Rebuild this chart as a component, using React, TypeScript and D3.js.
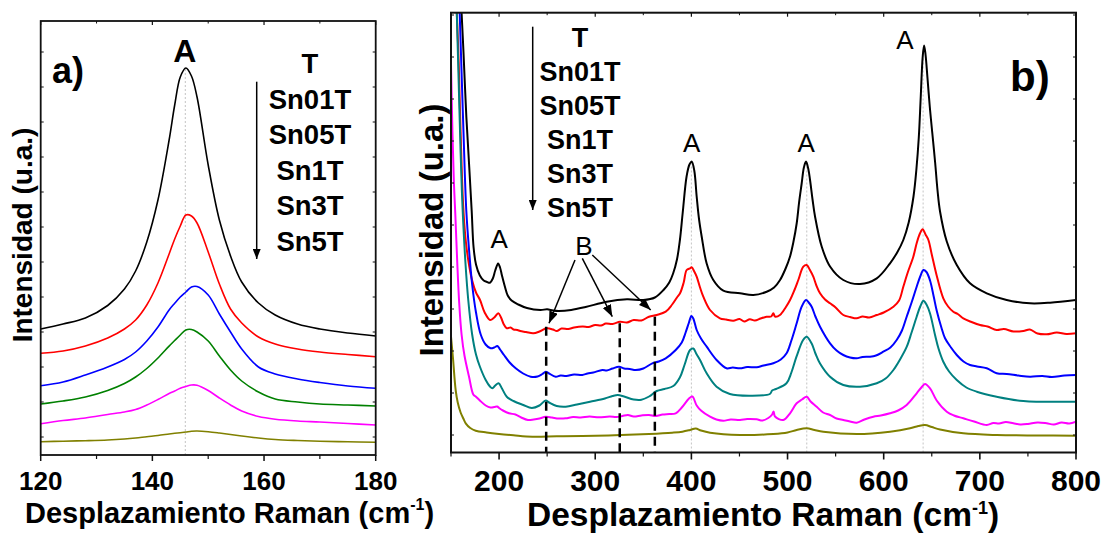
import React from 'react';
import * as d3 from 'd3';

// ---------- Panel a data (Raman shift, cm-1) ----------
const ramanA = [120, 124, 128, 132, 135, 137, 139, 141, 143, 144, 145, 146, 147, 148, 150, 152, 154, 156, 159, 162, 166, 170, 175, 180];
const aT = [126, 131, 137, 149.5, 166, 184, 213, 255, 315, 350, 378, 387, 379, 358, 290, 235, 199, 173, 152, 140, 131, 126, 122, 119];
const aSn01T = [101.7, 104, 109, 117, 126, 135, 150, 172, 201, 216, 229, 240, 239, 232, 203, 171, 146, 132, 118, 111, 106, 103, 100.5, 98.3];
const aSn05T = [69.3, 73, 80, 88, 95.5, 103, 114, 128, 145, 151.7, 158, 163, 168, 168.5, 160, 141, 123, 106, 88, 81, 76, 72.5, 69, 66.7];
const aSn1T = [51, 54, 58, 64.5, 71.5, 78, 86.5, 97, 108.9, 114.5, 120, 125, 125.5, 123, 114, 99, 85, 74, 63, 56, 53, 51, 50, 49];
const aSn3T = [31.3, 34.5, 37, 40.5, 43, 45.5, 50, 55.5, 61.5, 64, 66.7, 68.5, 70, 69.8, 64.5, 57, 50, 44, 38.5, 35.8, 34, 33, 31.5, 30];
const aSn5T = [13.3, 13.8, 14.3, 15, 16, 17, 18.3, 19.5, 21, 21.7, 22.3, 23, 23.8, 24, 23.3, 22, 20.5, 19, 17, 15.5, 14.5, 13.8, 13.2, 12.7];

// ---------- Panel b data ([Raman shift, intensity]) ----------
const bT: [number, number][] = [
  [161, 440], [163, 400], [166, 335], [169, 285], [171.5, 242], [173.5, 205], [176, 188], [180, 177], [184, 172], [187.5, 170.5], [190.5, 169.8],
  [193.5, 174], [196, 182], [199, 189], [201, 185], [203, 177], [206, 166], [209, 157], [213, 152], [220, 148], [229, 144.5], [243, 142.5],
  [250, 143.2], [256, 142], [262, 141.5], [275, 142.5], [290, 145.5], [312, 150.8], [333, 153.2], [350, 152.5], [362, 155], [371, 162.5],
  [377, 170], [381, 179], [385, 193], [388, 212], [391, 240], [395, 276], [398, 288], [400.3, 291], [403, 282], [405.5, 256], [408, 233],
  [410.7, 216], [415.9, 189], [422.8, 172.5], [433.2, 161.8], [450.6, 159.2], [464.4, 157.5], [478.3, 160.8], [486, 165], [492.2, 172.5],
  [498, 184], [502.6, 196], [506, 210], [509.5, 229], [512, 250], [514.7, 269], [517, 285], [519.2, 291], [521.5, 284], [523.4, 272.5],
  [526, 253], [528.6, 236], [535.5, 206], [544.2, 186], [558, 172.5], [575.4, 168.5], [592.8, 174.2], [606.6, 189.2], [614, 200],
  [620.4, 212.5], [626, 230], [631, 256], [634, 283], [636.5, 315], [638.5, 355], [640.5, 395], [642, 407], [643.5, 398], [645.5, 375],
  [648, 345], [650.5, 320], [653.5, 290], [656, 262], [658.6, 241], [665.6, 211], [676, 187.5], [689.8, 169.2], [707.2, 159.2],
  [727.9, 152.5], [752.2, 149.2], [773, 149.8], [800, 152.5],
];
const bSn01T: [number, number][] = [
  [156, 440], [158, 390], [160, 320], [162.5, 250], [165, 215], [168, 192], [172, 172], [176, 160], [180.2, 152.5], [185, 140], [190.6, 132.5],
  [195, 135], [199.2, 139.2], [202, 135], [205, 128], [208, 124.2], [212, 125], [215, 123], [219, 122.5], [222, 121.5], [228, 120.5],
  [235.6, 119.2], [242, 121], [249.5, 124.2], [256, 123], [260, 121.5], [265, 124], [272, 123.5], [278, 125], [287, 126], [293, 125.5],
  [300, 127.5], [306, 127], [311, 129], [318, 128.5], [325.8, 130.8], [333, 130], [340, 132.5], [348, 132], [355.9, 135.8],
  [364, 137.5], [373.3, 140.8], [380, 148], [385, 155], [388.2, 159.2], [392, 170], [395.1, 182.5], [398.6, 184.2], [400.3, 185.2],
  [403, 181], [405.5, 175.8], [409, 165], [412.4, 155.8], [419.4, 142.5], [429.7, 134.2], [436, 133], [443.6, 131.8], [450, 133.5],
  [455, 131], [460.8, 133.2], [466, 132], [472, 134], [478.2, 135.8], [483, 136], [485.2, 139.2], [487, 136], [492.1, 137.5], [498, 145],
  [502.6, 152.5], [507, 162], [511.2, 172.5], [516.4, 185.8], [519.9, 187.5], [523, 183], [526.8, 175.8], [530, 167], [533.8, 159.2],
  [539, 153], [544.2, 149.2], [550, 145], [558, 137.5], [565, 135.5], [571.9, 134.2], [578, 136], [585, 135], [592.8, 137.5], [600, 140],
  [610.1, 145.8], [616, 152], [620.4, 165.8], [625, 180], [630.8, 195.8], [634.5, 210], [637.8, 219.2], [640.5, 223.2], [643.5, 218],
  [646.5, 212.5], [650, 198], [655.1, 177], [662, 154.2], [667, 146], [672.4, 140.8], [677, 138.5], [682.8, 134.2], [690, 131],
  [700.2, 127.5], [708, 126], [717.5, 122.5], [725, 123.5], [735, 121], [745.2, 121.5], [752, 123], [760, 119], [769.5, 118.2],
  [780, 120], [790, 118.5], [800, 119.2],
];
const bSn05T: [number, number][] = [
  [159, 440], [161, 380], [163, 320], [165.9, 242], [169, 200], [172, 168], [176, 140], [180.9, 118], [186, 108], [191.3, 104.2], [195, 105],
  [198.2, 106.5], [201, 103], [205.1, 97.5], [211, 90], [217.3, 84.2], [225, 79], [232.9, 75.8], [240, 76], [245, 78.5], [248.5, 80.8],
  [252, 79], [258.9, 75.8], [264, 77], [270, 76.5], [278, 78], [286.6, 77.5], [292, 79], [298, 80], [307.4, 82.5], [312, 82], [318, 84],
  [324.7, 85.8], [330, 84], [336, 83.5], [342.1, 82.5], [350, 84], [359.4, 89.2], [366, 91], [373.3, 94.2], [383.7, 102.5], [390, 110],
  [394, 120], [397.5, 130], [400, 136.5], [402, 134], [405.5, 122.5], [410, 114], [415.9, 105.8], [426.2, 92.5], [436.6, 84.2],
  [443, 85], [450.6, 84.2], [458, 85.5], [467.9, 85.2], [475, 87], [485.2, 89.2], [493, 93], [499, 99.2], [504, 112], [509.5, 129.2],
  [514.7, 145.8], [519.2, 152.5], [522, 150], [525.1, 145.8], [529, 136], [533.8, 125.8], [544.2, 109.2], [551, 102], [558, 97.5],
  [565, 95], [571.9, 94.2], [578, 95.5], [585.8, 95.8], [592, 97], [599.7, 100.8], [607, 105], [613.5, 112.5], [619, 122],
  [623.9, 135.8], [629, 150], [634.3, 165.8], [638, 176], [641.3, 182.5], [644.5, 180.5], [648.2, 172], [652, 156], [655.1, 142],
  [660, 125], [663.8, 114.2], [670, 105], [676, 97.5], [683, 91], [689.8, 87.5], [697, 86], [707.2, 84.2], [717.5, 79.2],
  [728, 78.5], [740, 77], [752.2, 75.8], [765, 76.5], [775, 75.5], [788, 77], [800, 77.5],
];
const bSn1T: [number, number][] = [
  [156, 440], [158, 370], [160, 300], [162, 245], [165, 190], [168, 152], [172, 118], [176, 98], [180, 86], [186.1, 72.5], [190.5, 66],
  [193, 64.2], [196, 67], [199.5, 69.2], [203, 64], [208, 55.8], [215, 51.5], [225.2, 47.5], [234, 44.5], [242, 47], [248.5, 52],
  [252, 50], [259.9, 46.5], [269.3, 45.8], [281, 48], [294.6, 50.8], [310, 54], [318, 56.5], [323.5, 57.5], [330, 56], [340, 53],
  [348, 52.8], [356, 56], [364, 61.5], [372, 63.5], [381.2, 66.5], [388, 75], [393, 88], [398.6, 102.5], [402, 104], [405, 99],
  [409, 92.5], [415.9, 79.2], [426.2, 65.8], [440, 58.5], [460.8, 56.8], [481.6, 58.5], [484, 62], [488, 63.5], [498.9, 69.2],
  [504, 80], [509.3, 95.8], [516.2, 112.5], [519.9, 115.8], [525.1, 109], [529, 99], [533.8, 89], [544.2, 75.8], [558, 67.5],
  [575.4, 65.8], [592.8, 69.2], [602, 74], [610.1, 82.5], [617, 93], [624, 105.8], [629, 120], [634.3, 135.8], [638, 146],
  [641.3, 151.8], [644.5, 148], [648.2, 139], [653.4, 117.5], [657, 104], [662, 90.8], [668, 81], [676, 72.5], [686, 65],
  [696.8, 60.8], [717.5, 55.8], [745.2, 51.5], [800, 50.8],
];
const bSn3T: [number, number][] = [
  [150, 389], [151.5, 320], [153, 270], [154.5, 238], [156.5, 190], [158.5, 150], [161, 118], [164, 97], [168.7, 76], [173.2, 58],
  [175.7, 56], [180, 52], [186.1, 47], [191, 45], [195, 45.5], [198, 46], [200, 44.5], [204, 42], [210.3, 39.2], [217, 38], [223, 35],
  [230, 32.5], [236, 33], [242, 34], [248.5, 35.8], [255, 35], [262, 34], [269.3, 34.2], [277, 35.5], [285, 35], [294, 36],
  [303.9, 35.2], [315, 36], [322, 35.5], [328.2, 36.5], [334, 37.5], [340, 36], [348, 37], [355.9, 37.5], [363, 36.5], [370, 38],
  [377, 38.5], [383.7, 39.2], [390, 45], [397.5, 54], [401, 56], [405.5, 47], [410, 42], [419.4, 35.8], [426, 33], [433.2, 31.8],
  [441, 33], [450.6, 32.5], [458, 33.5], [467.9, 33.2], [474, 32], [480, 34.5], [484, 38], [485.5, 41], [487, 36], [495.6, 32.5],
  [502.6, 39.2], [509.5, 49.2], [515, 53], [519.9, 55.8], [524, 51], [530.3, 45.8], [537, 40], [544.2, 37.5], [551, 34], [558, 32.5],
  [565, 31], [571.9, 29.8], [580, 33], [589.2, 35.8], [597, 37], [606.6, 39.2], [615, 42], [623.9, 47.5], [634.3, 59.2], [640, 66],
  [643, 68.5], [648.2, 64.2], [655.1, 52], [665.6, 40.8], [673, 37], [682.8, 34.2], [694, 31], [707.2, 27.5], [714, 29.5], [720, 29],
  [727, 30.5], [734.8, 29.2], [742, 28], [750, 28.5], [760, 30], [769.5, 29.2], [777, 28], [785, 30], [793, 29], [800, 30.8],
];
const bSn5T: [number, number][] = [
  [150, 116], [152, 95], [154.9, 62], [157, 50], [160, 40], [162.8, 34], [165.3, 29.2], [170, 24.5], [175.7, 21.8], [187, 20], [200, 18.5],
  [215, 17.2], [234.6, 15.8], [260, 16.2], [286.6, 16.5], [320, 17.2], [355.9, 18.5], [380, 19.8], [390.6, 20.8], [398.6, 22.5],
  [404.5, 24], [410, 22], [419.4, 19.8], [450.6, 17.5], [485.2, 18.5], [500, 20], [509.5, 22.5], [519.9, 24.2], [528, 22.5],
  [537.2, 20.8], [572, 18.5], [606.6, 20.8], [627.4, 24.2], [636, 26.5], [643, 27.5], [650, 25.5], [658.6, 23], [682.8, 19.2],
  [717.5, 17.5], [760, 17], [800, 16.8],
];

const legendNames = ['T', 'Sn01T', 'Sn05T', 'Sn1T', 'Sn3T', 'Sn5T'];
const colorsA = ['#000000', '#ff0000', '#0000ff', '#008000', '#ff00ff', '#808000'];
const colorsB = ['#000000', '#ff0000', '#0000ff', '#008080', '#ff00ff', '#808000'];
const ticksAMajor = [120, 140, 160, 180];
const ticksAMinor = [130, 150, 170];
const ticksBMajor = [200, 300, 400, 500, 600, 700, 800];
const ticksBMinor = [150, 250, 350, 450, 550, 650, 750];
const peaksB = [400, 520, 641];
const bandsB = [249, 325.5, 362];

const FONT = "'Liberation Sans', Arial, Helvetica, sans-serif";

export default function App() {
  const xa = d3.scaleLinear().domain([120, 180]).range([40.7, 375.7]);
  const ya = d3.scaleLinear().domain([0, 434]).range([455, 21]);
  const xb = d3.scaleLinear().domain([150, 800]).range([451, 1076]);
  const yb = d3.scaleLinear().domain([0, 439.8]).range([452.5, 12.7]);

  const seriesA = [aT, aSn01T, aSn05T, aSn1T, aSn3T, aSn5T];
  const seriesB = [bT, bSn01T, bSn05T, bSn1T, bSn3T, bSn5T];

  const lineA = d3.line<number>()
    .x((_, i) => xa(ramanA[i]))
    .y((d) => ya(d))
    .curve(d3.curveCatmullRom.alpha(0.5));
  const lineB = d3.line<[number, number]>()
    .x((d) => xb(d[0]))
    .y((d) => yb(d[1]))
    .curve(d3.curveCatmullRom.alpha(0.5));

  const yTicksA = d3.range(18, 434, 35);
  const yTicksB = d3.range(17.5, 439, 42);

  const [a0, a1] = xa.range();
  const [ab, at] = ya.range();
  const [b0, b1] = xb.range();
  const [bb, bt] = yb.range();

  const peakTop = (s: [number, number][], x: number) => {
    let best = s[0];
    for (const p of s) if (Math.abs(p[0] - x) < Math.abs(best[0] - x)) best = p;
    return best[1];
  };

  return (
    <svg width={1107} height={534} style={{ position: 'absolute', left: 0, top: 0, background: '#fff' }}
      fontFamily={FONT}>
      <defs>
        <marker id="arr" markerWidth="10" markerHeight="8" refX="10" refY="4" orient="auto" markerUnits="userSpaceOnUse">
          <path d="M0,0 L10,4 L0,8 z" fill="#000" />
        </marker>
        <marker id="arr2" markerWidth="12" markerHeight="9" refX="12" refY="4.5" orient="auto" markerUnits="userSpaceOnUse">
          <path d="M0,0 L12,4.5 L0,9 z" fill="#000" />
        </marker>
        <clipPath id="clipA"><rect x={a0} y={at} width={a1 - a0} height={ab - at} /></clipPath>
        <clipPath id="clipB"><rect x={b0} y={bt} width={b1 - b0} height={bb - bt} /></clipPath>
      </defs>
      <rect x={0} y={0} width={1107} height={534} fill="#fff" />

      {/* ================= Panel a ================= */}
      <line x1={xa(145.9)} x2={xa(145.9)} y1={ab} y2={ya(387)} stroke="#c4c4c4" strokeWidth={1} strokeDasharray="2,2" />
      <g clipPath="url(#clipA)">
        {seriesA.map((s, i) => (
          <path key={i} d={lineA(s) || ''} fill="none" stroke={colorsA[i]} strokeWidth={1.6} />
        ))}
      </g>
      <rect x={a0} y={at} width={a1 - a0} height={ab - at} fill="none" stroke="#111" strokeWidth={1.8} />
      {ticksAMajor.map((t) => (
        <g key={t}>
          <line x1={xa(t)} x2={xa(t)} y1={ab} y2={ab + 6} stroke="#111" strokeWidth={1.5} />
          <line x1={xa(t)} x2={xa(t)} y1={at} y2={at + 4} stroke="#111" strokeWidth={1.2} />
          <text x={xa(t)} y={490} textAnchor="middle" fontSize={26} fontWeight="bold">{t}</text>
        </g>
      ))}
      {ticksAMinor.map((t) => (
        <g key={t}>
          <line x1={xa(t)} x2={xa(t)} y1={ab} y2={ab + 4} stroke="#111" strokeWidth={1.2} />
          <line x1={xa(t)} x2={xa(t)} y1={at} y2={at + 2.5} stroke="#111" strokeWidth={1} />
        </g>
      ))}
      {yTicksA.map((t) => (
        <g key={t}>
          <line x1={a0} x2={a0 + 3} y1={ya(t)} y2={ya(t)} stroke="#111" strokeWidth={1} />
          <line x1={a1} x2={a1 - 3} y1={ya(t)} y2={ya(t)} stroke="#111" strokeWidth={1} />
        </g>
      ))}
      <text x={52} y={83} fontSize={36} fontWeight="bold">a)</text>
      <text x={xa(145.8)} y={62} textAnchor="middle" fontSize={32} fontWeight="bold">A</text>
      {legendNames.map((n, i) => (
        <text key={n} x={310} y={73 + i * 35.6} textAnchor="middle" fontSize={27.5} fontWeight="bold">{n}</text>
      ))}
      <line x1={256.7} x2={256.7} y1={81.7} y2={259} stroke="#000" strokeWidth={1.5} markerEnd="url(#arr)" />
      <text x={25} y={523} fontSize={29} fontWeight="bold">
        Desplazamiento Raman (cm<tspan dy={-13} fontSize={16}>-1</tspan><tspan dy={13}>)</tspan>
      </text>
      <text transform="translate(32,235) rotate(-90)" textAnchor="middle" fontSize={28} fontWeight="bold">Intensidad (u.a.)</text>

      {/* ================= Panel b ================= */}
      {peaksB.map((p) => (
        <line key={p} x1={xb(p)} x2={xb(p)} y1={bb} y2={yb(peakTop(bT, p))} stroke="#c4c4c4" strokeWidth={1} strokeDasharray="2,2" />
      ))}
      <g clipPath="url(#clipB)">
        {seriesB.map((s, i) => (
          <path key={i} d={lineB(s) || ''} fill="none" stroke={colorsB[i]} strokeWidth={2} strokeLinejoin="round" />
        ))}
      </g>
      {bandsB.map((b, i) => (
        <line key={b} x1={xb(b)} x2={xb(b)} y1={[326.7, 323.3, 316.7][i]} y2={bb} stroke="#000" strokeWidth={2.5} strokeDasharray="9,6" />
      ))}
      <rect x={b0} y={bt} width={b1 - b0} height={bb - bt} fill="none" stroke="#111" strokeWidth={2} />
      {ticksBMajor.map((t) => (
        <g key={t}>
          <line x1={xb(t)} x2={xb(t)} y1={bb} y2={bb + 7} stroke="#111" strokeWidth={1.6} />
          <line x1={xb(t)} x2={xb(t)} y1={bt} y2={bt + 4} stroke="#111" strokeWidth={1.2} />
          <text x={xb(t)} y={491} textAnchor="middle" fontSize={30} fontWeight="bold">{t}</text>
        </g>
      ))}
      {ticksBMinor.map((t) => (
        <g key={t}>
          <line x1={xb(t)} x2={xb(t)} y1={bb} y2={bb + 4} stroke="#111" strokeWidth={1.2} />
          <line x1={xb(t)} x2={xb(t)} y1={bt} y2={bt + 2.5} stroke="#111" strokeWidth={1} />
        </g>
      ))}
      {yTicksB.map((t) => (
        <g key={t}>
          <line x1={b0} x2={b0 + 3} y1={yb(t)} y2={yb(t)} stroke="#111" strokeWidth={1} />
          <line x1={b1} x2={b1 - 3} y1={yb(t)} y2={yb(t)} stroke="#111" strokeWidth={1} />
        </g>
      ))}
      <text x={1010} y={91} fontSize={42} fontWeight="bold">b)</text>
      {legendNames.map((n, i) => (
        <text key={n} x={580} y={47 + i * 34} textAnchor="middle" fontSize={27} fontWeight="bold">{n}</text>
      ))}
      <line x1={532.7} x2={532.7} y1={26.7} y2={210} stroke="#000" strokeWidth={1.5} markerEnd="url(#arr)" />
      {/* peak labels */}
      <text x={xb(200)} y={248.3} textAnchor="middle" fontSize={26}>A</text>
      <text x={xb(400.3)} y={151.7} textAnchor="middle" fontSize={26}>A</text>
      <text x={xb(519.5)} y={151.7} textAnchor="middle" fontSize={26}>A</text>
      <text x={905} y={48.5} textAnchor="middle" fontSize={26}>A</text>
      <text x={584} y={255} textAnchor="middle" fontSize={26}>B</text>
      <line x1={575} y1={260} x2={549} y2={323.3} stroke="#000" strokeWidth={1.5} markerEnd="url(#arr2)" />
      <line x1={582.3} y1={258.3} x2={612.3} y2={316.7} stroke="#000" strokeWidth={1.5} markerEnd="url(#arr2)" />
      <line x1={592.3} y1={255} x2={650.7} y2={310} stroke="#000" strokeWidth={1.5} markerEnd="url(#arr2)" />
      <text x={527} y={526} fontSize={33.5} fontWeight="bold">
        Desplazamiento Raman (cm<tspan dy={-12} fontSize={18}>-1</tspan><tspan dy={12}>)</tspan>
      </text>
      <text transform="translate(443,230) rotate(-90)" textAnchor="middle" fontSize={33} fontWeight="bold">Intensidad (u.a.)</text>
    </svg>
  );
}
